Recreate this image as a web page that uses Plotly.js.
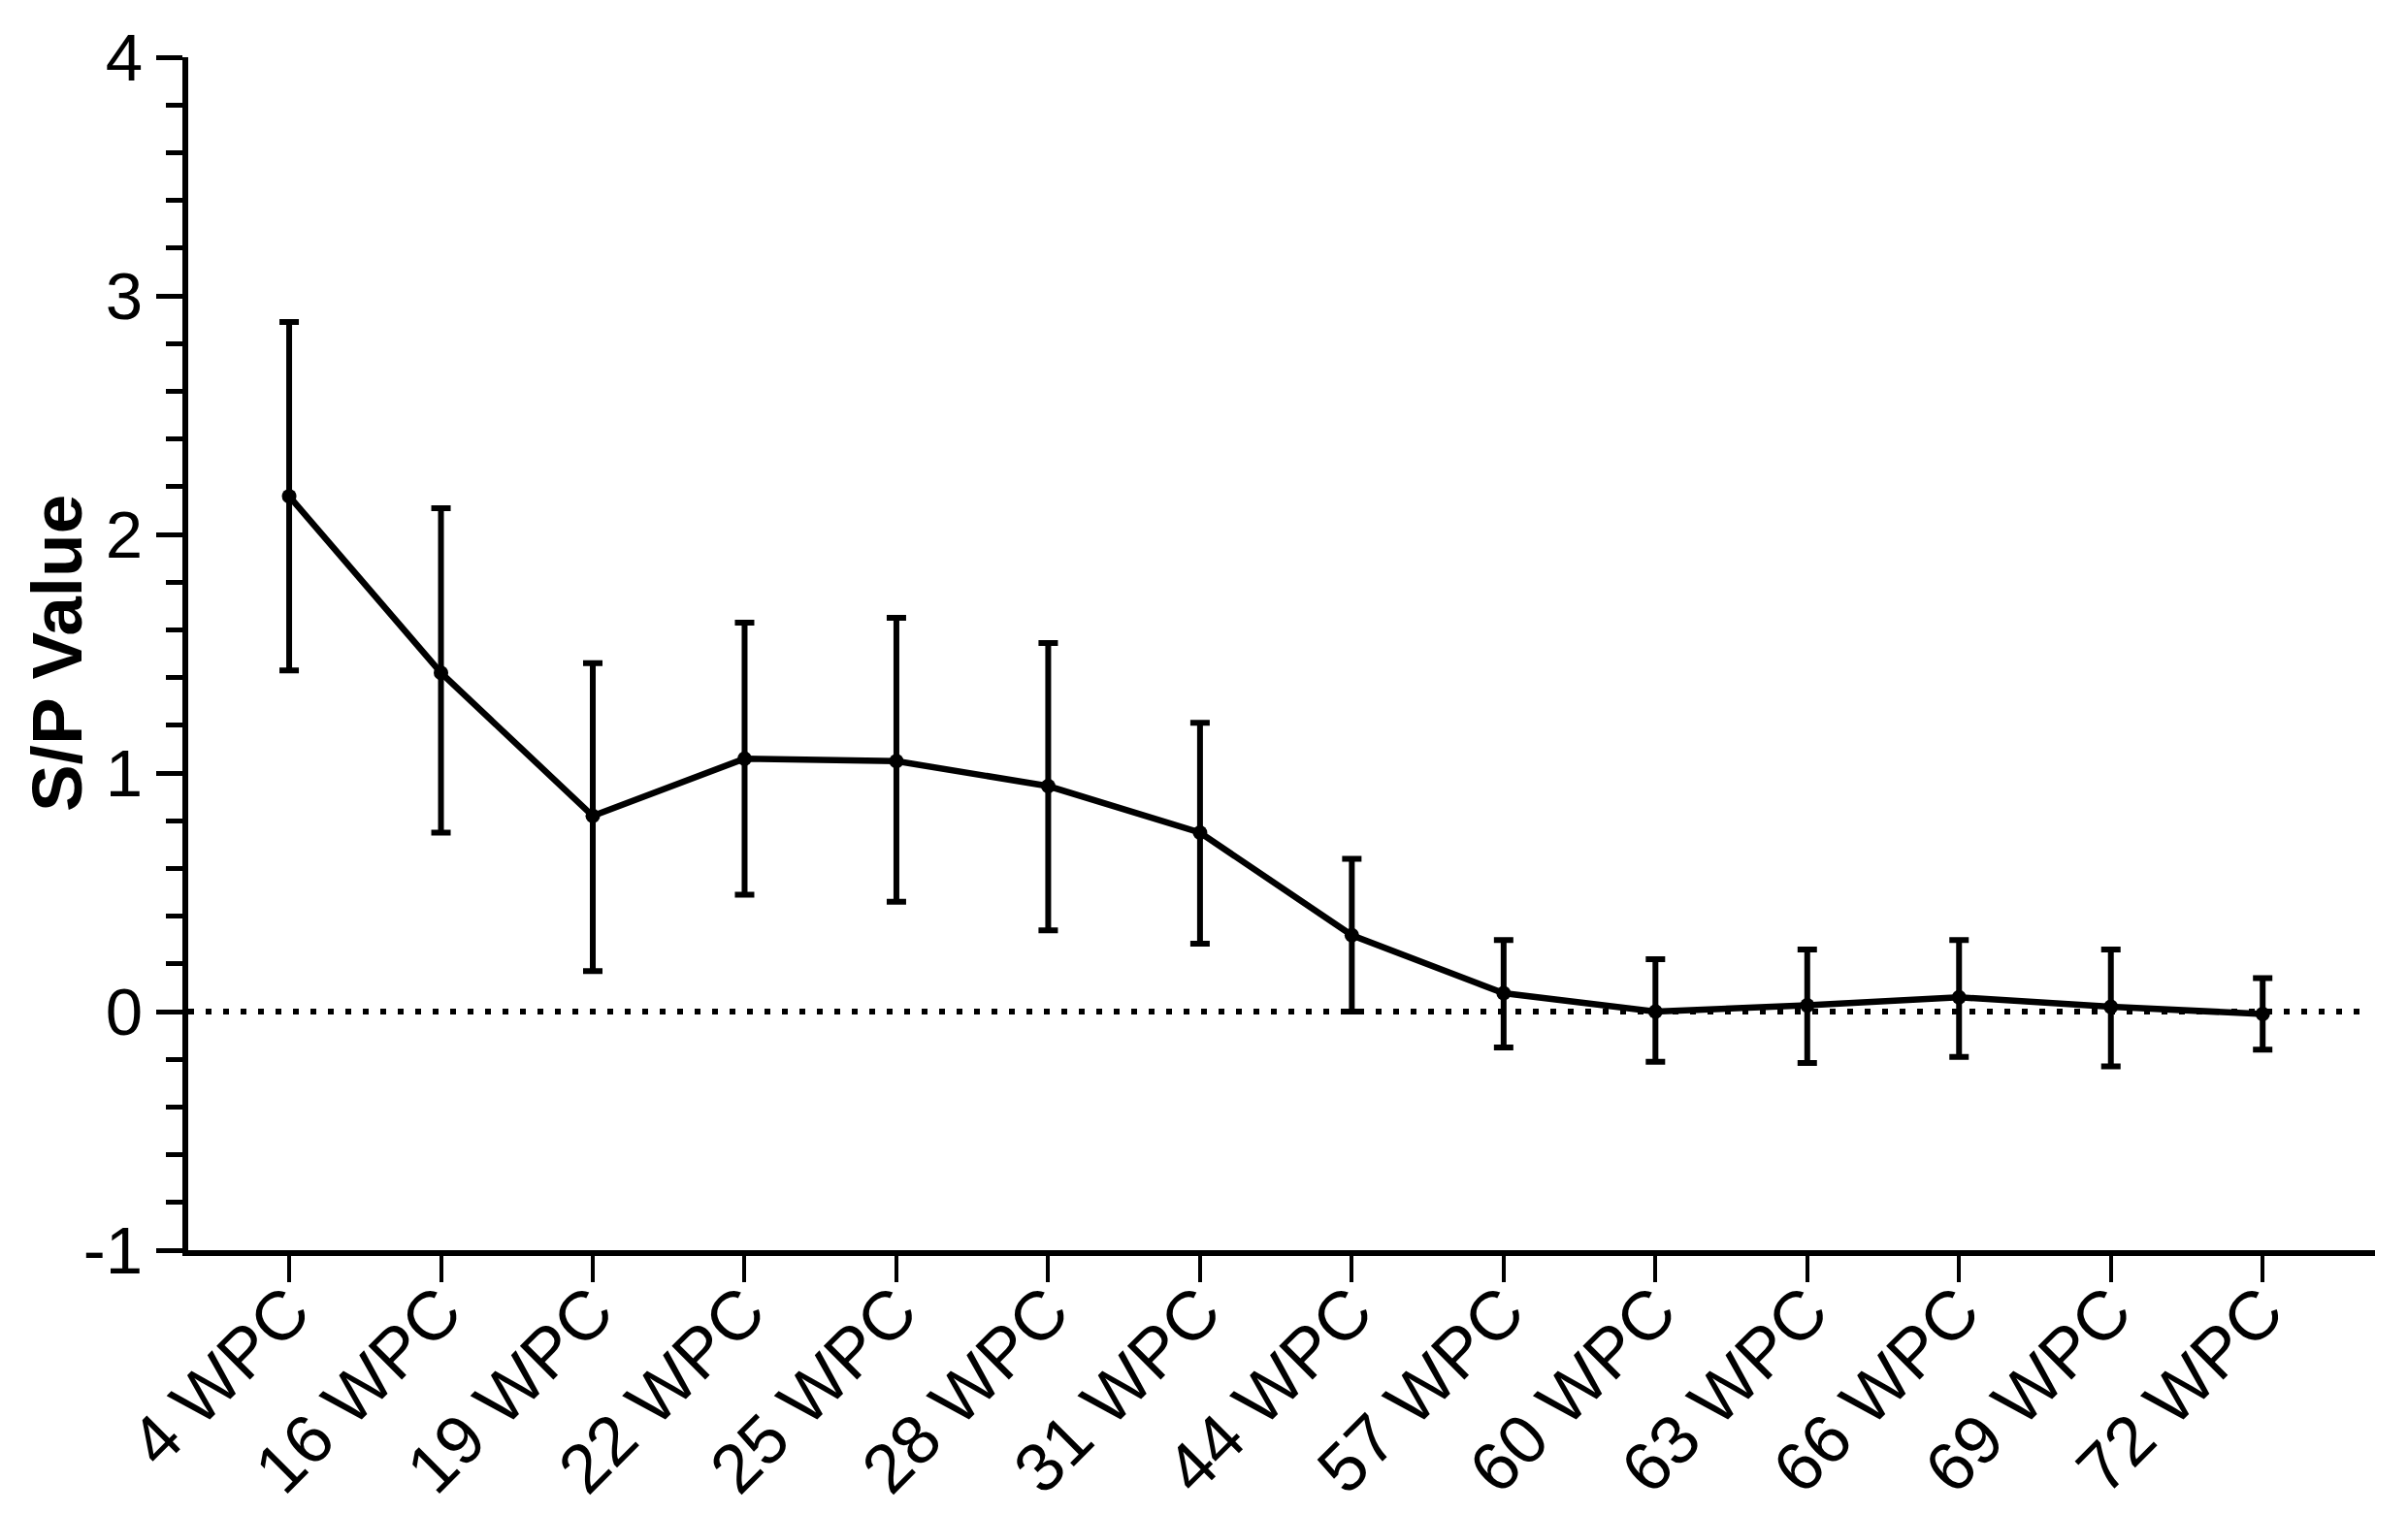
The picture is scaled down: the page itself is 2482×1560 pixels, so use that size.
<!DOCTYPE html>
<html>
<head>
<meta charset="utf-8">
<script src="https://cdn.plot.ly/plotly-3.0.1.min.js"></script>
<style>
html,body{margin:0;padding:0;background:#fff;}
#chart{width:2482px;height:1560px;}
</style>
</head>
<body>
<div id="chart"></div>
<script>
// Categories (weeks post challenge)
var categories = ["4 WPC","16 WPC","19 WPC","22 WPC","25 WPC","28 WPC","31 WPC","44 WPC","57 WPC","60 WPC","63 WPC","66 WPC","69 WPC","72 WPC"];
// Mean S/P values
var meanSP = [2.16, 1.42, 0.82, 1.06, 1.05, 0.945, 0.75, 0.32, 0.077, 0.00, 0.026, 0.06, 0.02, -0.01];
// Upper and lower error bar ends
var upperSP = [2.89, 2.11, 1.46, 1.63, 1.65, 1.545, 1.21, 0.64, 0.30, 0.22, 0.26, 0.30, 0.26, 0.14];
var lowerSP = [1.43, 0.75, 0.17, 0.49, 0.46, 0.34, 0.285, 0.00, -0.15, -0.21, -0.215, -0.19, -0.23, -0.16];
// Y axis tick values and labels
var yTickVals = [-1, 0, 1, 2, 3, 4];
var yTickText = ["-1", "0", "1", "2", "3", "4"];
var yTitle = "S/P Value";
// Reference line value
var refLine = 0;

var errPlus = meanSP.map(function(m, i){ return upperSP[i] - m; });
var errMinus = meanSP.map(function(m, i){ return m - lowerSP[i]; });

var FONT = "Liberation Sans, Arial, Helvetica, sans-serif";

var trace = {
  type: "scatter",
  mode: "lines+markers",
  x: categories,
  y: meanSP,
  line: {color: "#000", width: 6.5},
  marker: {color: "#000", size: 15, symbol: "circle"},
  error_y: {
    type: "data",
    symmetric: false,
    array: errPlus,
    arrayminus: errMinus,
    color: "#000",
    thickness: 6,
    width: 10
  },
  showlegend: false,
  cliponaxis: false
};

var layout = {
  width: 2482,
  height: 1560,
  paper_bgcolor: "#fff",
  plot_bgcolor: "#fff",
  margin: {l: 194, r: 34, t: 59, b: 271, pad: 0},
  font: {family: FONT, color: "#000"},
  xaxis: {
    type: "category",
    range: [-0.665, 13.74],
    showgrid: false,
    zeroline: false,
    showline: true,
    linecolor: "#000",
    linewidth: 6,
    ticks: "outside",
    ticklen: 27,
    tickwidth: 4,
    tickcolor: "#000",
    tickangle: -45,
    ticklabelstandoff: -40,
    tickfont: {family: FONT, size: 71, color: "#000"}
  },
  yaxis: {
    range: [-1, 4],
    tickmode: "array",
    tickvals: yTickVals,
    ticktext: yTickText,
    showgrid: false,
    zeroline: false,
    showline: true,
    linecolor: "#000",
    linewidth: 6,
    ticks: "outside",
    ticklen: 27,
    tickwidth: 5,
    tickcolor: "#000",
    tickfont: {family: FONT, size: 69, color: "#000"},
    minor: {tickmode: "linear", tick0: 0, dtick: 0.2, ticks: "outside", ticklen: 17, tickwidth: 5, tickcolor: "#000", showgrid: false}
  },
  annotations: [{
    text: yTitle,
    xref: "paper", yref: "paper",
    x: -0.0603, y: 0.5,
    xanchor: "center", yanchor: "middle",
    textangle: -90,
    showarrow: false,
    font: {family: FONT, size: 73, color: "#000", weight: "bold"}
  }],
  shapes: [{
    type: "line",
    xref: "x", yref: "y",
    x0: -0.665, x1: 13.66,
    y0: refLine, y1: refLine,
    line: {color: "#000", width: 6, dash: "6px,12px"},
    layer: "below"
  }]
};

Plotly.newPlot("chart", [trace], layout, {displayModeBar: false, staticPlot: true});
</script>
</body>
</html>
